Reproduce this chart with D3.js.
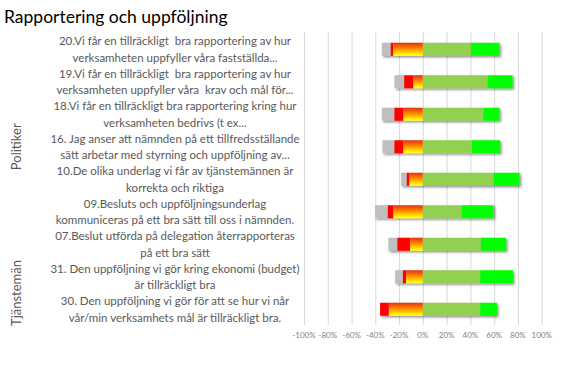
<!DOCTYPE html>
<html lang="sv">
<head>
<meta charset="UTF-8">
<title>Rapportering och uppföljning</title>
<script src="https://d3js.org/d3.v7.min.js"></script>
<style>
  body { margin: 0; background: #fff; }
  svg { display: block; font-family: Lato, "Open Sans", Arial, sans-serif; }
  .cat { font-size: 11.5px; fill: #595959; white-space: pre; }
  .tick-lbl { font-size: 8px; fill: #7f7f7f; }
  .grp { font-size: 13px; fill: #595959; }
</style>
</head>
<body>
<svg id="chart"></svg>
<script>
// kategorier (två rader per etikett)
const categories = [
  ["20.Vi får en tillräckligt  bra rapportering av hur", "verksamheten uppfyller våra fastställda..."],
  ["19.Vi får en tillräckligt  bra rapportering av hur", "verksamheten uppfyller våra  krav och mål för..."],
  ["18.Vi får en tillräckligt bra rapportering kring hur", "verksamheten bedrivs (t ex..."],
  ["16. Jag anser att nämnden på ett tillfredsställande", "sätt arbetar med styrning och uppföljning av..."],
  ["10.De olika underlag vi får av tjänstemännen är", "korrekta och riktiga"],
  ["09.Besluts och uppföljningsunderlag", "kommuniceras på ett bra sätt till oss i nämnden."],
  ["07.Beslut utförda på delegation återrapporteras", "på ett bra sätt"],
  ["31. Den uppföljning vi gör kring ekonomi (budget)", "är tillräckligt bra"],
  ["30. Den uppföljning vi gör för att se hur vi når", "vår/min verksamhets mål är tillräckligt bra."]
];
const groups = ["Politiker", "Tjänstemän"];
const groupSizes = [7, 2];

// andelar i procent
const vetEj        = [7.5, 8.2, 10.6, 10.1, 4.8, 10.7, 7.6, 6.5, 0];
const inteAlls     = [2.2, 7.8, 7.6, 7.6, 2.2, 4.7, 10.7, 2.7, 7.4];
const ganskaDaligt = [24.8, 7.9, 16.3, 16.3, 11.3, 24.8, 10.7, 14.1, 28.6];
const ganskaBra    = [40.4, 54.4, 51.0, 41.3, 59.5, 32.8, 48.8, 48.3, 48.3];
const helt         = [24.1, 21.1, 13.5, 23.8, 21.9, 26.7, 21.3, 27.5, 14.1];

const ticks = [-100, -80, -60, -40, -20, 0, 20, 40, 60, 80, 100];

const W = 584, H = 369;
const svg = d3.select("#chart").attr("width", W).attr("height", H);

const defs = svg.append("defs");
defs.append("filter").attr("id", "shadow")
  .attr("x", "-10%").attr("y", "-30%").attr("width", "130%").attr("height", "180%")
  .append("feDropShadow")
    .attr("dx", 1.5).attr("dy", 1.5).attr("stdDeviation", 1)
    .attr("flood-color", "#000").attr("flood-opacity", 0.45);
const grad = defs.append("linearGradient").attr("id", "orange")
  .attr("x1", 0).attr("y1", 0).attr("x2", 0).attr("y2", 1);
grad.append("stop").attr("offset", "0%").attr("stop-color", "#e2300e");
grad.append("stop").attr("offset", "45%").attr("stop-color", "#ff8a00");
grad.append("stop").attr("offset", "85%").attr("stop-color", "#ffee00");
grad.append("stop").attr("offset", "100%").attr("stop-color", "#ffff40");

const x = d3.scaleLinear().domain([-100, 100]).range([304, 541.7]);
const idx = d3.range(categories.length);
const y = d3.scaleBand().domain(idx).range([33, 325.5])
  .paddingInner(0.6).paddingOuter(0.3);

// titel
svg.append("text")
  .attr("x", 4).attr("y", 23)
  .style("font-size", "17.5px").attr("fill", "#000")
  .text("Rapportering och uppföljning");

// rutnät
svg.append("g")
  .attr("transform", "translate(0,325)")
  .call(d3.axisBottom(x).tickValues(ticks).tickSize(-293).tickFormat(""))
  .call(g => g.select(".domain").remove())
  .call(g => g.selectAll("line").attr("stroke", "#d9d9d9"));

// tick-etiketter
svg.append("g").selectAll("text").data(ticks).join("text")
  .attr("class", "tick-lbl")
  .attr("x", d => x(d)).attr("y", 337.5)
  .attr("text-anchor", "middle")
  .text(d => d + "%");

// staplar
const series = [
  { vals: vetEj, fill: "#bfbfbf" },
  { vals: inteAlls, fill: "#ff0000" },
  { vals: ganskaDaligt, fill: "url(#orange)" },
  { vals: ganskaBra, fill: "#92d050" },
  { vals: helt, fill: "#00ff00" }
];

const rows = svg.append("g").selectAll("g").data(idx).join("g")
  .attr("filter", "url(#shadow)");

rows.each(function(i) {
  const neg = vetEj[i] + inteAlls[i] + ganskaDaligt[i];
  let start = -neg;
  const segs = series.map(s => {
    const seg = { x0: start, x1: start + s.vals[i], fill: s.fill };
    start += s.vals[i];
    return seg;
  }).filter(s => s.x1 > s.x0);
  d3.select(this).selectAll("rect").data(segs).join("rect")
    .attr("x", d => x(d.x0))
    .attr("width", d => x(d.x1) - x(d.x0))
    .attr("y", y(i))
    .attr("height", y.bandwidth())
    .attr("fill", d => d.fill);
});

// kategorietiketter
const labelX = 175;
const lab = svg.append("g").selectAll("text").data(idx).join("text")
  .attr("class", "cat")
  .attr("text-anchor", "middle");
lab.each(function(i) {
  const cy = y(i) + y.bandwidth() / 2;
  d3.select(this).selectAll("tspan").data(categories[i]).join("tspan")
    .attr("x", labelX)
    .attr("y", (d, k) => cy - 4 + k * 16.5)
    .text(d => d);
});

// gruppetiketter
let acc = 0;
groups.forEach((gname, gi) => {
  const first = acc, last = acc + groupSizes[gi] - 1;
  acc += groupSizes[gi];
  const cy = (y(first) + y(last) + y.bandwidth()) / 2;
  svg.append("text")
    .attr("class", "grp")
    .attr("transform", `translate(21,${cy}) rotate(-90)`)
    .attr("text-anchor", "middle")
    .text(gname);
});
</script>
</body>
</html>
